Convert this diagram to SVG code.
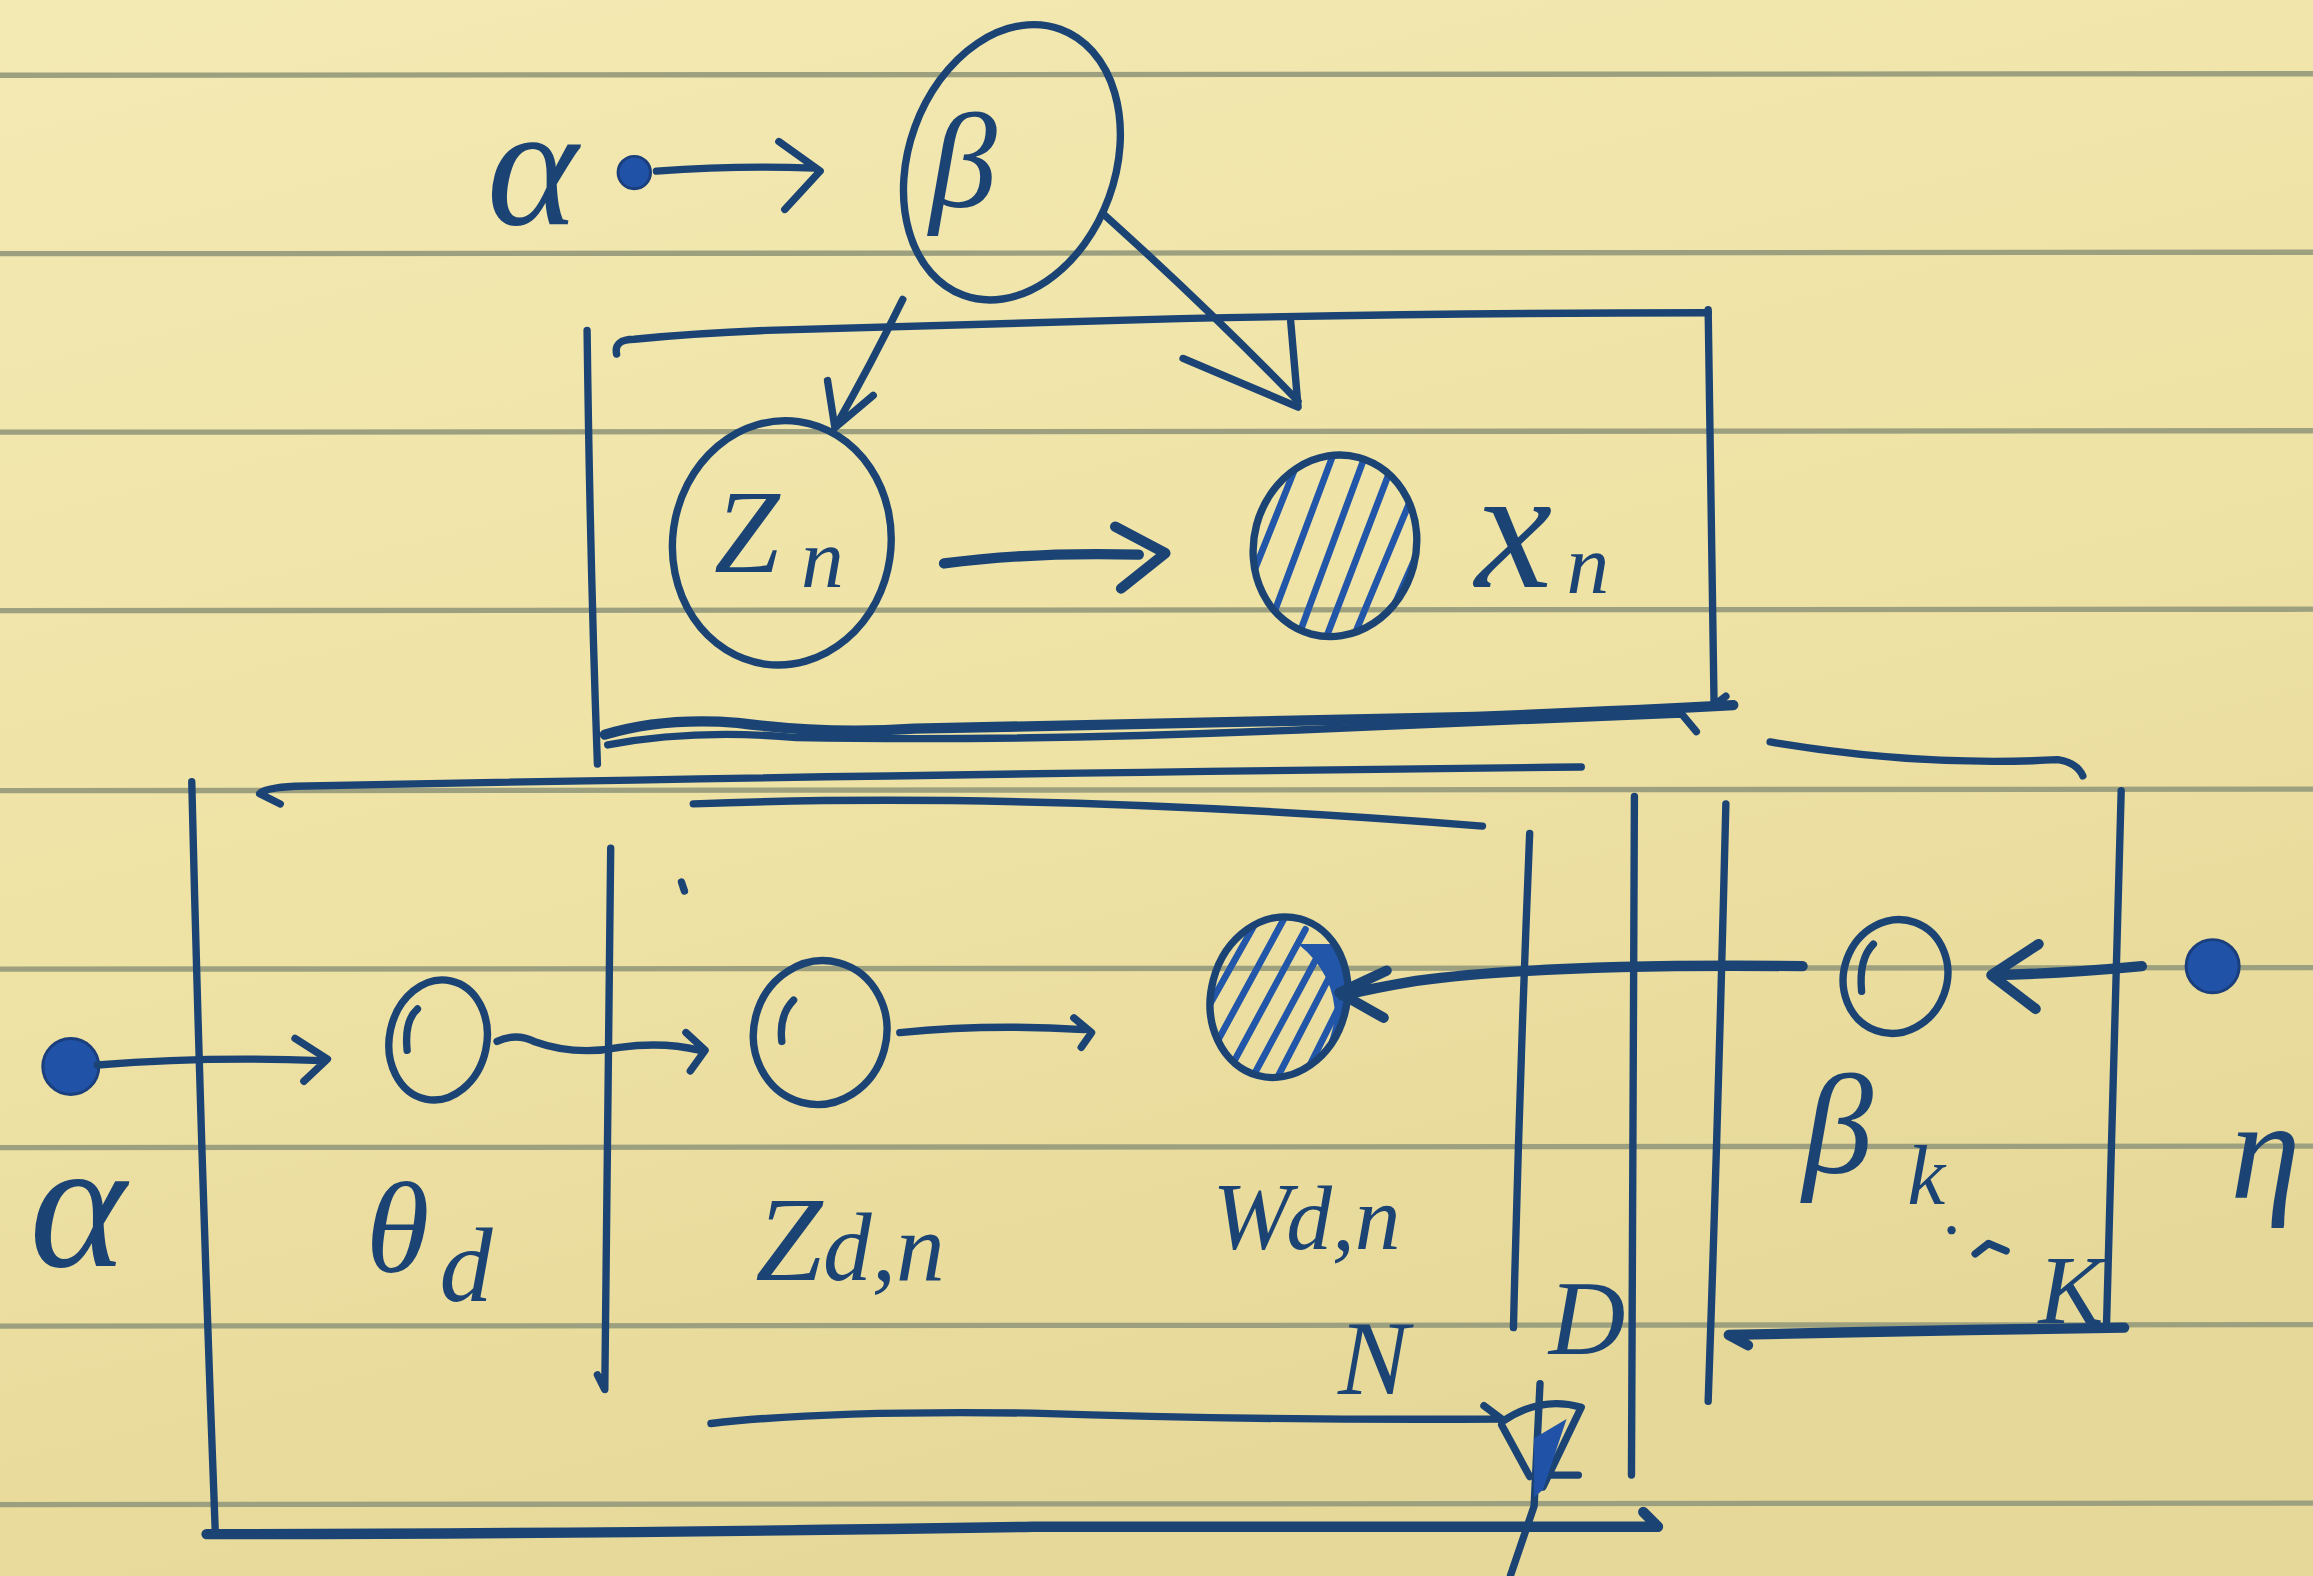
<svg xmlns="http://www.w3.org/2000/svg" width="2313" height="1576" viewBox="0 0 2313 1576">
<defs>
<linearGradient id="paper" x1="0" y1="0" x2="0.35" y2="1">
<stop offset="0" stop-color="#f3e9b3"/>
<stop offset="0.5" stop-color="#efe3a6"/>
<stop offset="1" stop-color="#e6d898"/>
</linearGradient>
<clipPath id="cx"><ellipse cx="905" cy="370" rx="55" ry="62" transform="rotate(15 905 370)"/></clipPath>
<clipPath id="cw"><ellipse cx="867" cy="676" rx="46" ry="55" transform="rotate(15 867 676)"/></clipPath>
<style>
.ink{fill:none;stroke:#1b4475;stroke-width:5;stroke-linecap:round;stroke-linejoin:round}
.heavy{stroke-width:7}
.rule{fill:none;stroke:#9ca07e;stroke-width:3.6}
.dot{fill:#2052a8;stroke:#1a3f7c;stroke-width:2}
.hatch{fill:none;stroke:#2256a8;stroke-width:4.5;stroke-linecap:round}
.t{font-family:"Liberation Serif","DejaVu Serif",serif;font-style:italic;fill:#1b4475}
</style>
</defs>
<rect width="2313" height="1576" fill="url(#paper)"/>
<g transform="scale(1.4751)">
<g id="ruled-lines">
<path class="rule" d="M0,51 L1568,50"/>
<path class="rule" d="M0,172 L1568,171"/>
<path class="rule" d="M0,293 L1568,292"/>
<path class="rule" d="M0,414 L1568,413"/>
<path class="rule" d="M0,536 L1568,535"/>
<path class="rule" d="M0,657 L1568,656"/>
<path class="rule" d="M0,778 L1568,777"/>
<path class="rule" d="M0,899 L1568,898"/>
<path class="rule" d="M0,1020 L1568,1019"/>
</g>

<!-- plates -->
<g id="plate-top">
<path class="ink" d="M418,240 Q416,230 430,230 Q470,226 520,224 L800,216 Q1000,212 1158,212"/>
<path class="ink" d="M398,224 Q400,380 405,518"/>
<path class="ink" d="M1158,210 Q1160,350 1162,478 L1170,472"/>
<path class="ink heavy" d="M410,498 Q450,486 500,490 Q560,498 620,494 Q800,490 1000,486 Q1100,482 1175,478"/>
<path class="ink" d="M412,505 Q470,494 540,500 Q700,503 900,494 Q1050,488 1140,484 L1150,496"/>
</g>

<g id="plate-D">
<path class="ink" d="M130,530 Q136,780 146,1040"/>
<path class="ink" d="M190,545 L176,538 Q180,534 200,533 Q600,525 1072,520"/>
<path class="ink" d="M1108,540 Q1106,770 1106,1000"/>
<path class="ink heavy" d="M140,1040 Q400,1040 700,1035 Q950,1035 1124,1035 L1114,1025"/>
<text class="t" x="1050" y="918" font-size="72">D</text>
</g>

<g id="plate-N">
<path class="ink" d="M470,545 Q700,536 1005,560"/>
<path class="ink" d="M414,575 Q412,760 410,942 L405,932"/>
<path class="ink" d="M1037,565 Q1030,735 1026,900"/>
<path class="ink" d="M482,965 Q560,956 700,958 Q850,963 1018,962 L1006,953"/>
<path class="ink" d="M1018,964 Q1044,946 1072,954 L1046,1008 M1018,966 L1037,1001 M1044,938 L1040,1021 L1024,1068 M1050,1000 L1070,1000"/>
<path d="M1040,975 L1062,962 L1046,1010 L1040,1015 Z" fill="#2052a8"/>
<text class="t" x="907" y="945" font-size="72">N</text>
</g>

<g id="plate-K">
<path class="ink" d="M1200,503 Q1300,520 1395,515 Q1408,517 1412,526"/>
<path class="ink" d="M1170,545 Q1165,750 1158,950"/>
<path class="ink" d="M1438,536 Q1433,720 1428,900"/>
<path class="ink heavy" d="M1185,912 L1172,905 Q1300,902 1440,900"/>
<text class="t" x="1382" y="897" font-size="66">K</text>
</g>

<!-- nodes -->
<g id="node-alpha-top">
<circle class="dot" cx="430" cy="117" r="11"/>
<text class="t" x="330" y="152" font-size="118">α</text>
</g>

<g id="node-beta">
<ellipse class="ink" cx="686" cy="110" rx="70" ry="96" transform="rotate(20 686 110)"/>
<text class="t" x="630" y="140" font-size="92">β</text>
</g>

<g id="node-zn">
<ellipse class="ink" cx="530" cy="368" rx="74" ry="83" transform="rotate(8 530 368)"/>
<text class="t" x="484" y="388" font-size="80">Z</text>
<text class="t" x="543" y="398" font-size="58">n</text>
</g>

<g id="node-xn">
<g clip-path="url(#cx)">
<path class="hatch" d="M845,400 L885,300 M862,420 L905,305 M880,432 L925,310 M898,435 L942,320 M915,438 L960,330 M932,440 L972,350"/>
</g>
<ellipse class="ink" cx="905" cy="370" rx="55" ry="62" transform="rotate(15 905 370)"/>
<text class="t" x="1000" y="398" font-size="118">x</text>
<text class="t" x="1062" y="402" font-size="58">n</text>
</g>

<g id="node-alpha">
<circle class="dot" cx="48" cy="723" r="19"/>
<text class="t" x="20" y="858" font-size="125">α</text>
</g>

<g id="node-theta">
<ellipse class="ink" cx="297" cy="705" rx="33" ry="41" transform="rotate(12 297 705)"/>
<path class="ink" d="M276,712 Q274,692 283,684"/>
<text class="t" x="248" y="862" font-size="88">θ</text>
<text class="t" x="298" y="882" font-size="72">d</text>
</g>

<g id="node-zdn">
<ellipse class="ink" cx="556" cy="700" rx="45" ry="49" transform="rotate(15 556 700)"/>
<path class="ink" d="M530,706 Q528,688 538,678"/>
<text class="t" x="512" y="868" font-size="82">Z</text>
<text class="t" x="558" y="868" font-size="66">d,n</text>
<path class="ink" d="M462,598 L464,604"/>
</g>

<g id="node-wdn">
<g clip-path="url(#cw)">
<path d="M880,640 Q905,660 905,690 Q900,720 880,735 L910,740 L925,640 Z" fill="#2256a8"/>
<path class="hatch" d="M815,690 L860,610 M822,712 L872,620 M832,728 L885,630 M845,738 L895,645 M860,742 L905,655 M878,742 L915,668"/>
</g>
<ellipse class="ink" cx="867" cy="676" rx="46" ry="55" transform="rotate(15 867 676)"/>
<text class="t" x="822" y="847" font-size="64">W</text>
<text class="t" x="872" y="847" font-size="62">d,n</text>
</g>

<g id="node-betak">
<ellipse class="ink" cx="1285" cy="662" rx="35" ry="39" transform="rotate(20 1285 662)"/>
<path class="ink" d="M1262,672 Q1260,650 1270,640"/>
<text class="t" x="1222" y="795" font-size="96">β</text>
<text class="t" x="1293" y="816" font-size="58">k</text>
<circle cx="1323" cy="834" r="2.8" fill="#1b4475"/>
<path class="ink" d="M1339,850 L1348,843 L1360,848"/>
</g>

<g id="node-eta">
<circle class="dot" cx="1500" cy="655" r="18"/>
<text class="t" x="1512" y="812" font-size="96">η</text>
</g>

<!-- connectors -->
<g id="connectors">
<path class="ink" d="M445,116 Q500,112 552,114 M528,96 L556,116 L532,142"/>
<path class="ink" d="M612,203 Q590,248 566,290 M561,258 L566,290 L592,268"/>
<path class="ink" d="M748,145 Q820,210 880,272 M802,243 L880,276 L875,218"/>
<path class="ink heavy" d="M640,382 Q700,374 772,376 M756,357 L790,375 L760,399"/>
<path class="ink" d="M66,722 Q140,716 218,719 M200,704 L222,718 L206,733"/>
<path class="ink" d="M337,706 Q350,700 362,706 Q390,716 420,710 Q450,706 474,712 M465,700 L478,712 L468,726"/>
<path class="ink" d="M610,700 Q670,694 735,698 M728,690 L740,700 L733,710"/>
<path class="ink heavy" d="M1222,655 Q1050,653 960,665 Q930,670 910,675 M940,658 L908,673 L938,690"/>
<path class="ink heavy" d="M1452,655 Q1400,660 1352,661 M1382,640 L1350,661 L1380,684"/>
</g>
</g>
</svg>
